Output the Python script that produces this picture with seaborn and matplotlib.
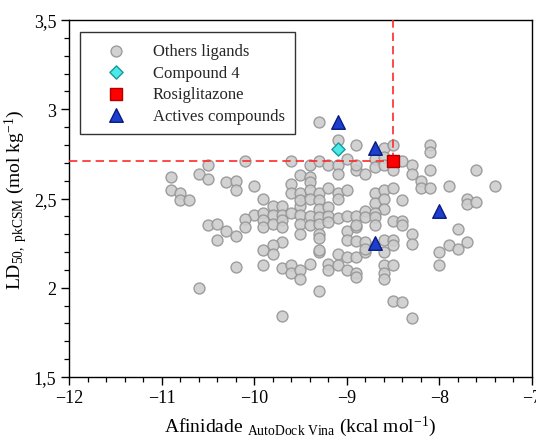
import matplotlib
matplotlib.use("Agg")
import matplotlib.pyplot as plt
import seaborn as sns
import pandas as pd
from matplotlib.ticker import MultipleLocator, FixedLocator, FixedFormatter

# ---------------- data ----------------
others_x = [
    -10.9, -10.5, -10.6, -10.5, -10.9, -10.8, -10.8, -10.7, -10.5, -10.4, -10.4, -10.6,
    -9.3, -9.1, -8.9, -10.1, -9.6, -9.4, -9.3, -9.2, -9.1, -9.0, -8.9, -9.1,
    -10.3, -10.2, -10.2, -10.0, -9.6, -9.5, -9.4, -9.4, -9.6, -9.5, -9.4, -9.3,
    -9.2, -9.1, -9.1, -9.0, -9.9, -9.8, -9.7, -9.5, -9.5, -9.4, -9.3, -9.3,
    -9.2, -10.0, -10.1, -9.9, -9.8, -9.7, -9.6, -9.5, -9.4, -9.3, -9.2, -9.1,
    -9.0, -8.9, -9.9, -9.9, -9.8, -9.7, -9.7, -9.5, -9.4, -9.3, -9.2, -10.1,
    -10.3, -10.2, -9.5, -9.3, -9.3, -9.0, -8.9, -9.0, -8.9, -9.7, -9.8, -9.9,
    -9.8, -9.3, -9.1, -9.0, -8.9, -10.2, -9.9, -9.7, -9.6, -9.6, -9.5, -9.5,
    -9.4, -9.2, -9.2, -9.1, -9.0, -8.9, -8.9, -9.3, -9.7, -9.3,
    -8.6, -8.5, -8.1, -8.1, -8.9, -8.8, -8.7, -8.7, -8.6, -8.6, -8.5, -8.4,
    -8.3, -8.3, -8.2, -8.2, -8.1, -8.1, -7.9, -7.6, -7.4, -7.7, -7.7, -7.6,
    -8.7, -8.6, -8.5, -8.4, -8.7, -8.6, -8.6, -8.8, -8.8, -8.7, -8.7, -8.9,
    -8.7, -8.5, -8.4, -8.4, -8.3, -8.3, -8.8, -8.6, -8.5, -8.5, -8.8, -8.6,
    -7.8, -7.9, -7.8, -7.7, -8.0, -8.0, -8.6, -8.6, -8.6, -8.5, -8.5, -8.4,
    -8.3, -8.8,
]
others_y = [
    2.62, 2.69, 2.64, 2.61, 2.55, 2.53, 2.49, 2.49, 2.35, 2.355, 2.27, 2.00,
    2.93, 2.83, 2.80, 2.71, 2.71, 2.69, 2.71, 2.69, 2.69, 2.72, 2.66, 2.64,
    2.59, 2.60, 2.55, 2.57, 2.58, 2.63, 2.62, 2.59, 2.53, 2.53, 2.55, 2.53,
    2.56, 2.53, 2.50, 2.55, 2.50, 2.46, 2.46, 2.46, 2.49, 2.495, 2.49, 2.44,
    2.45, 2.41, 2.385, 2.42, 2.41, 2.41, 2.42, 2.41, 2.40, 2.395, 2.40, 2.39,
    2.40, 2.40, 2.38, 2.34, 2.355, 2.38, 2.34, 2.355, 2.35, 2.355, 2.37, 2.34,
    2.32, 2.29, 2.30, 2.30, 2.28, 2.32, 2.34, 2.27, 2.26, 2.255, 2.24, 2.21,
    2.19, 2.20, 2.19, 2.175, 2.17, 2.115, 2.125, 2.11, 2.13, 2.085, 2.10, 2.05,
    2.135, 2.135, 2.10, 2.125, 2.10, 2.085, 2.06, 1.98, 1.84, 2.21,
    2.785, 2.80, 2.80, 2.76, 2.69, 2.64, 2.72, 2.675, 2.73, 2.69, 2.66, 2.71,
    2.69, 2.64, 2.60, 2.56, 2.66, 2.56, 2.57, 2.66, 2.57, 2.50, 2.47, 2.48,
    2.53, 2.55, 2.56, 2.49, 2.475, 2.495, 2.44, 2.43, 2.395, 2.42, 2.395, 2.35,
    2.35, 2.376, 2.376, 2.35, 2.30, 2.245, 2.258, 2.265, 2.265, 2.24, 2.20, 2.20,
    2.327, 2.24, 2.217, 2.258, 2.20, 2.126, 2.126, 2.084, 2.049, 2.126, 1.926, 1.92,
    1.83, 2.217,
]
compound4_x = [-9.1]
compound4_y = [2.78]
rosi_x = [-8.5]
rosi_y = [2.71]
actives_x = [-9.1, -8.7, -8.0, -8.7]
actives_y = [2.93, 2.785, 2.43, 2.25]

x_ticks = [-12, -11, -10, -9, -8, -7]
x_tick_labels = ["\u221212", "\u221211", "\u221210", "\u22129", "\u22128", "\u22127"]
y_ticks = [1.5, 2.0, 2.5, 3.0, 3.5]
y_tick_labels = ["1,5", "2", "2,5", "3", "3,5"]

# ---------------- style ----------------
sns.set_style("ticks")
plt.rcParams["font.family"] = ["Liberation Serif", "DejaVu Serif"]
plt.rcParams["mathtext.fontset"] = "custom"
plt.rcParams["mathtext.rm"] = "Liberation Serif"
plt.rcParams["mathtext.it"] = "Liberation Serif:italic"
plt.rcParams["mathtext.bf"] = "Liberation Serif:bold"

fig = plt.figure(figsize=(5.36, 4.39), dpi=100)
ax = fig.add_axes([0.1287, 0.139, 0.8638, 0.813])

df_o = pd.DataFrame({"x": others_x, "y": others_y})
df_c = pd.DataFrame({"x": compound4_x, "y": compound4_y})
df_r = pd.DataFrame({"x": rosi_x, "y": rosi_y})
df_a = pd.DataFrame({"x": actives_x, "y": actives_y})

sns.scatterplot(data=df_o, x="x", y="y", ax=ax, marker="o", s=62,
                color="#cdcdcd", edgecolor="#959595", linewidth=1.0,
                alpha=0.9, label="Others ligands", zorder=2)

# reference dashed lines
ax.plot([-12, rosi_x[0]], [rosi_y[0], rosi_y[0]], color="#ff2a2a",
        linestyle=(0, (5, 3)), linewidth=1.2, zorder=3)
ax.plot([rosi_x[0], rosi_x[0]], [rosi_y[0], 3.5], color="#ff2a2a",
        linestyle=(0, (5, 3)), linewidth=1.2, zorder=3)

sns.scatterplot(data=df_c, x="x", y="y", ax=ax, marker="D", s=45,
                color="#4de8e8", edgecolor="#169a9a", linewidth=1.0,
                label="Compound 4", zorder=4)
sns.scatterplot(data=df_r, x="x", y="y", ax=ax, marker="s", s=80,
                color="#ff0000", edgecolor="#b00000", linewidth=1.0,
                label="Rosiglitazone", zorder=4)
sns.scatterplot(data=df_a, x="x", y="y", ax=ax, marker="^", s=95,
                color="#1c3fcc", edgecolor="#0a1a80", linewidth=1.0,
                label="Actives compounds", zorder=4)

ax.set_xlim(-12, -7)
ax.set_ylim(1.5, 3.5)
ax.xaxis.set_major_locator(FixedLocator(x_ticks))
ax.xaxis.set_major_formatter(FixedFormatter(x_tick_labels))
ax.yaxis.set_major_locator(FixedLocator(y_ticks))
ax.yaxis.set_major_formatter(FixedFormatter(y_tick_labels))
ax.xaxis.set_minor_locator(MultipleLocator(0.2))
ax.yaxis.set_minor_locator(MultipleLocator(0.1))
ax.tick_params(axis="both", which="major", direction="out", length=6,
               width=1.0, color="black", labelsize=13, labelcolor="black", pad=3)
ax.tick_params(axis="both", which="minor", direction="out", length=3.5,
               width=0.9, color="black")
for sp in ax.spines.values():
    sp.set_visible(True)
    sp.set_color("black")
    sp.set_linewidth(1.0)

ax.set_xlabel(r"Afinidade $_{\mathrm{AutoDock\ Vina}}$ (kcal mol$^{\mathrm{-1}}$)",
              fontsize=14, color="black", labelpad=5)
ax.set_ylabel(r"LD$_{\mathrm{50,\ pkCSM}}$ (mol kg$^{\mathrm{-1}}$)",
              fontsize=14, color="black", labelpad=3)

leg = ax.legend(loc="upper left", bbox_to_anchor=(0.024, 0.966),
                borderaxespad=0, frameon=True, fancybox=False,
                edgecolor="black", fontsize=12, handlelength=3.0,
                handletextpad=0.7, borderpad=0.65, labelspacing=0.33)
leg.get_frame().set_linewidth(1.0)

fig.savefig("out.png", dpi=100)
